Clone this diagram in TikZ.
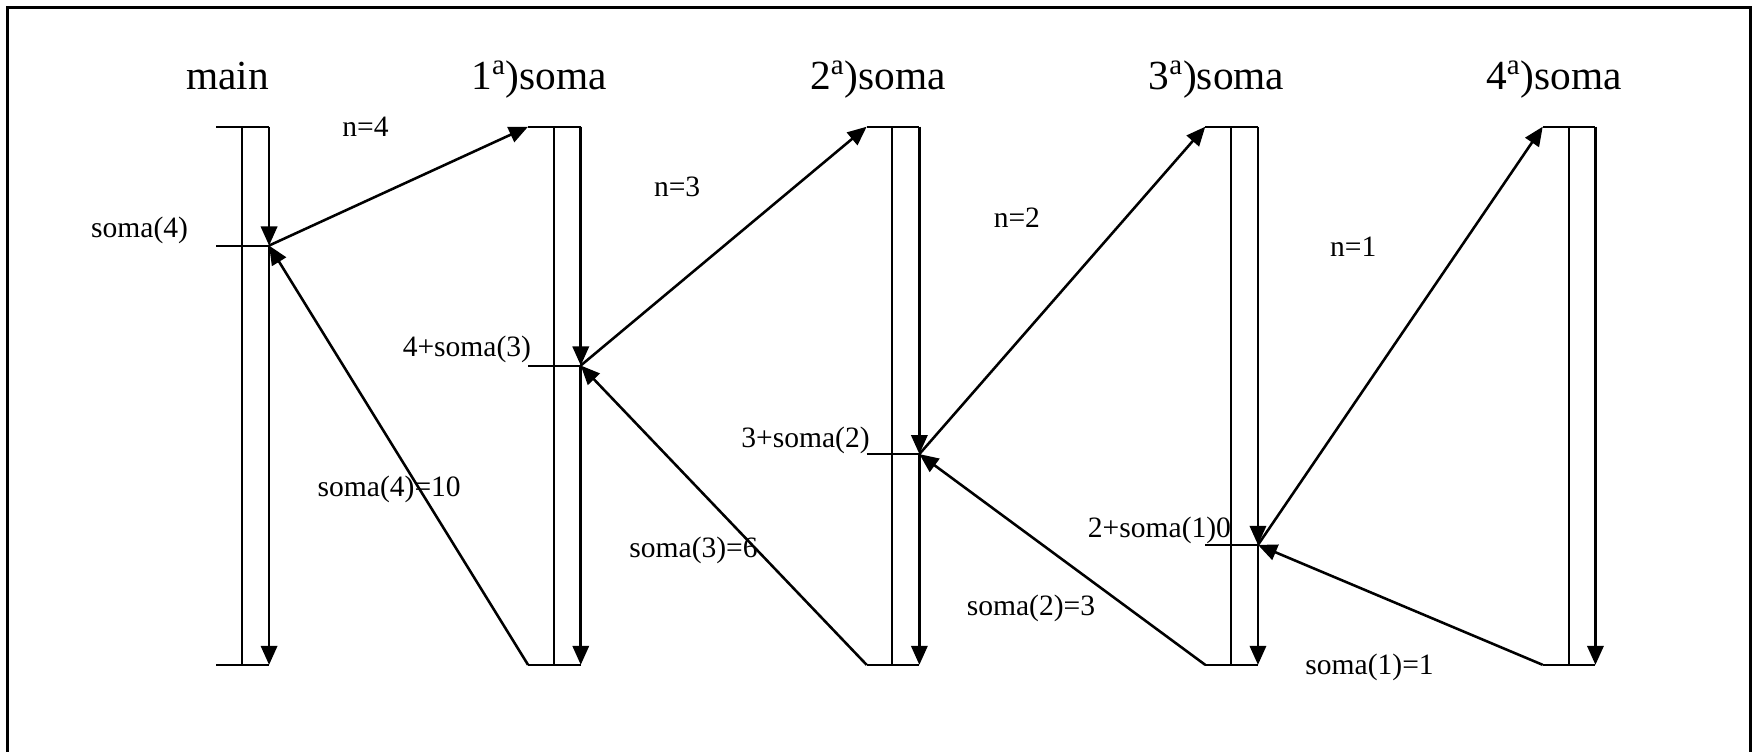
\documentclass[tikz,border=0pt]{standalone}
\usepackage{fontspec}
\setmainfont{Liberation Serif}
\usetikzlibrary{arrows.meta}
\tikzset{
 lane/.style={line width=1pt},
 flow/.style={-{Triangle[length=3.4mm,width=2.9mm]},line width=1.4pt},
 call/.style={-{Triangle[length=3.4mm,width=2.9mm]},line width=1.3pt},
 title/.style={font=\fontsize{21}{25}\selectfont,inner sep=0pt,anchor=base},
 lbl/.style={font=\fontsize{15}{18}\selectfont,inner sep=0pt}
}

\begin{document}
\begin{tikzpicture}[x=0.2mm,y=-0.2mm]
\useasboundingbox (0,0) rectangle (1568,670);
\draw[line width=1.6pt] (7,690) -- (7,7) -- (1561,7) -- (1561,690);

% lanes: left line, top and bottom bars, tick where the call is made
\foreach \n/\x/\k in {m/216/219,a/494/326,b/796/405,c/1098/486,d/1399/0}{
  \coordinate (\n-tl) at (\x-23,113);
  \coordinate (\n-tr) at (\x+24,113);
  \coordinate (\n-bl) at (\x-23,593);
  \coordinate (\n-br) at (\x+24,593);
  \draw[lane] (\x,113) -- (\x,593);
  \draw[lane] (\n-tl) -- (\n-tr);
  \draw[lane] (\n-bl) -- (\n-br);
}
\foreach \n/\x/\k in {m/216/219,a/494/326,b/796/405,c/1098/486}{
  \coordinate (\n-k) at (\x+24,\k);
  \draw[lane] (\x-23,\k) -- (\n-k);
  \draw[flow] (\n-tr) -- (\n-k);
  \draw[flow] (\n-k) -- (\n-br);
}
\draw[flow] (d-tr) -- (d-br);

% titles
\node[title] (tmain) at (203,80) {main};
\node[title] (t1) at (481,80) {1\textsuperscript{a})soma};
\node[title] (t2) at (783,80) {2\textsuperscript{a})soma};
\node[title] (t3) at (1085,80) {3\textsuperscript{a})soma};
\node[title] (t4) at (1386,80) {4\textsuperscript{a})soma};

% calls
\draw[call] (m-k) -- (a-tl);
\draw[call] (a-k) -- (b-tl);
\draw[call] (b-k) -- (c-tl);
\draw[call] (c-k) -- (d-tl);

% returns
\draw[call] (a-bl) -- (m-k);
\draw[call] (b-bl) -- (a-k);
\draw[call] (c-bl) -- (b-k);
\draw[call] (d-bl) -- (c-k);

% labels
\node[lbl,anchor=base east] (lm) at (168,212) {soma(4)};
\node[lbl,anchor=base east] (la) at (474,318) {4+soma(3)};
\node[lbl,anchor=base east] (lb) at (776,399) {3+soma(2)};
\node[lbl,anchor=base west] (lc) at (970,479) {2+soma(1)0};
\node[lbl,anchor=base west] (n4) at (305,122) {n=4};
\node[lbl,anchor=base west] (n3) at (583,175) {n=3};
\node[lbl,anchor=base west] (n2) at (886,203) {n=2};
\node[lbl,anchor=base west] (n1) at (1186,229) {n=1};
\node[lbl,anchor=base west] (r4) at (283,443) {soma(4)=10};
\node[lbl,anchor=base west] (r3) at (561,497) {soma(3)=6};
\node[lbl,anchor=base west] (r2) at (862,549) {soma(2)=3};
\node[lbl,anchor=base west] (r1) at (1164,602) {soma(1)=1};
\end{tikzpicture}
\end{document}
